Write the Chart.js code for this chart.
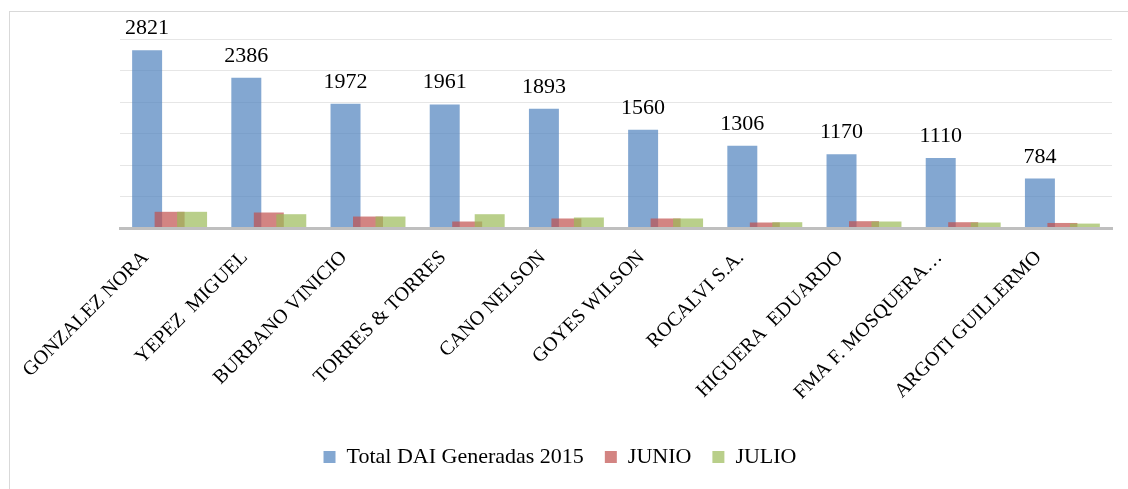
<!DOCTYPE html>
<html lang="es">
<head>
<meta charset="utf-8">
<title>DAI generadas 2015</title>
<script src="https://cdn.jsdelivr.net/npm/chart.js@4/dist/chart.umd.min.js"></script>
<style>
    html, body { margin: 0; padding: 0; background: #fff; overflow: hidden; }
    #contenedor { position: relative; width: 1128px; height: 489px; }
    #marco {
        position: absolute; left: 9px; top: 11px;
        width: 1140px; height: 500px;
        border: 1px solid #d9d9d9; pointer-events: none;
    }
</style>
</head>
<body>
<div id="contenedor">
    <canvas id="daiChart"></canvas>
    <div id="marco"></div>
</div>
<script>
// --- DATOS ---
const categorias = ['GONZALEZ NORA', 'YEPEZ  MIGUEL', 'BURBANO VINICIO', 'TORRES & TORRES', 'CANO NELSON',
    'GOYES WILSON', 'ROCALVI S.A.', 'HIGUERA  EDUARDO', 'FMA F. MOSQUERA…', 'ARGOTI GUILLERMO'];
const totalDai = [2821, 2386, 1972, 1961, 1893, 1560, 1306, 1170, 1110, 784];
const junio = [257, 246, 182, 103, 151, 151, 87, 108, 92, 80];
const julio = [257, 219, 182, 219, 167, 151, 92, 103, 87, 70];
const nombresSeries = ['Total DAI Generadas 2015', 'JUNIO', 'JULIO'];
const ejeYMax = 3000;
const ejeYPaso = 500;

const fuente = '"Liberation Serif", "Times New Roman", serif';

// dibuja las series en orden (azul abajo, verde arriba) y pone los valores del total
const ordenDibujo = {
    id: 'ordenDibujo',
    beforeDatasetsDraw(chart) {
        chart.data.datasets.forEach((d, i) => {
            if (chart.isDatasetVisible(i)) chart.getDatasetMeta(i).controller.draw();
        });
        const ctx = chart.ctx;
        ctx.save();
        ctx.font = '22px ' + fuente;
        ctx.fillStyle = '#000';
        ctx.textAlign = 'center';
        ctx.textBaseline = 'alphabetic';
        chart.getDatasetMeta(0).data.forEach((bar, i) => {
            ctx.fillText(totalDai[i], bar.x, bar.y - 16);
        });
        ctx.restore();
        return false;
    }
};

function crearGrafico() {
    const ctx = document.getElementById('daiChart').getContext('2d');
    new Chart(ctx, {
        type: 'bar',
        data: {
            labels: categorias,
            datasets: [
                { label: nombresSeries[0], data: totalDai, backgroundColor: 'rgba(79, 129, 189, 0.7)' },
                { label: nombresSeries[1], data: junio, backgroundColor: 'rgba(192, 80, 77, 0.7)' },
                { label: nombresSeries[2], data: julio, backgroundColor: 'rgba(155, 187, 89, 0.7)' }
            ]
        },
        options: {
            responsive: true,
            maintainAspectRatio: false,
            animation: false,
            layout: { padding: { top: 39, right: 16, bottom: 11, left: 8 } },
            datasets: {
                bar: { categoryPercentage: 0.68, barPercentage: 1.333, borderWidth: 0 }
            },
            plugins: {
                tooltip: { enabled: false },
                legend: {
                    position: 'bottom',
                    labels: {
                        boxWidth: 12,
                        boxHeight: 12,
                        padding: 21,
                        color: '#000',
                        font: { family: fuente, size: 22 }
                    }
                }
            },
            scales: {
                x: {
                    grid: { display: false, drawTicks: false },
                    border: { display: true, color: '#bfbfbf', width: 3, z: 1 },
                    ticks: {
                        autoSkip: false,
                        minRotation: 45,
                        maxRotation: 45,
                        padding: 18,
                        labelOffset: -24,
                        color: '#000',
                        font: { family: fuente, size: 20 }
                    },
                    afterFit: (s) => { s.height = 197; }
                },
                y: {
                    min: 0,
                    max: ejeYMax,
                    ticks: { stepSize: ejeYPaso, display: false },
                    grid: { color: '#e6e6e6', lineWidth: 1, drawTicks: false },
                    border: { display: false },
                    afterFit: (s) => { s.width = 112; }
                }
            }
        },
        plugins: [ordenDibujo]
    });
}

document.addEventListener('DOMContentLoaded', crearGrafico);
</script>
</body>
</html>
